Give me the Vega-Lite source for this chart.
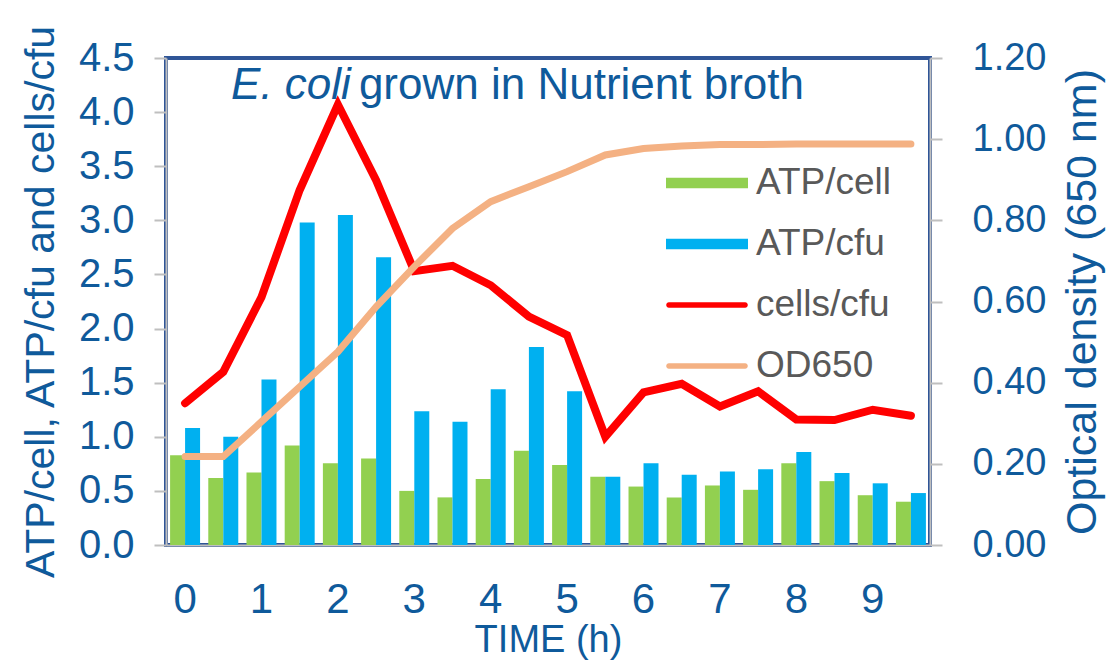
{
  "$schema": "https://vega.github.io/schema/vega-lite/v6.json",
  "width": 764,
  "height": 487,
  "autosize": "none",
  "padding": {"left": 166, "top": 58, "right": 181, "bottom": 115},
  "background": "white",
  "config": {
    "view": {"stroke": "#2F5597", "strokeWidth": 4},
    "axis": {"labelColor": "#0F5A9B", "titleColor": "#0F5A9B", "labelFont": "Liberation Sans", "titleFont": "Liberation Sans", "titleFontWeight": "normal", "grid": false, "domainColor": "#BFBFBF", "domainWidth": 2, "tickColor": "#BFBFBF", "tickWidth": 2}
  },
  "data": {"values": [
    {"t": 0, "s": "ATP/cell", "v": 0.83}, {"t": 0.5, "s": "ATP/cell", "v": 0.62}, {"t": 1, "s": "ATP/cell", "v": 0.67}, {"t": 1.5, "s": "ATP/cell", "v": 0.92},
    {"t": 2, "s": "ATP/cell", "v": 0.755}, {"t": 2.5, "s": "ATP/cell", "v": 0.8}, {"t": 3, "s": "ATP/cell", "v": 0.5}, {"t": 3.5, "s": "ATP/cell", "v": 0.44},
    {"t": 4, "s": "ATP/cell", "v": 0.61}, {"t": 4.5, "s": "ATP/cell", "v": 0.87}, {"t": 5, "s": "ATP/cell", "v": 0.74}, {"t": 5.5, "s": "ATP/cell", "v": 0.63},
    {"t": 6, "s": "ATP/cell", "v": 0.54}, {"t": 6.5, "s": "ATP/cell", "v": 0.44}, {"t": 7, "s": "ATP/cell", "v": 0.55}, {"t": 7.5, "s": "ATP/cell", "v": 0.51},
    {"t": 8, "s": "ATP/cell", "v": 0.755}, {"t": 8.5, "s": "ATP/cell", "v": 0.59}, {"t": 9, "s": "ATP/cell", "v": 0.46}, {"t": 9.5, "s": "ATP/cell", "v": 0.4},
    {"t": 0, "s": "ATP/cfu", "v": 1.08}, {"t": 0.5, "s": "ATP/cfu", "v": 1.0}, {"t": 1, "s": "ATP/cfu", "v": 1.53}, {"t": 1.5, "s": "ATP/cfu", "v": 2.98},
    {"t": 2, "s": "ATP/cfu", "v": 3.05}, {"t": 2.5, "s": "ATP/cfu", "v": 2.66}, {"t": 3, "s": "ATP/cfu", "v": 1.235}, {"t": 3.5, "s": "ATP/cfu", "v": 1.14},
    {"t": 4, "s": "ATP/cfu", "v": 1.44}, {"t": 4.5, "s": "ATP/cfu", "v": 1.83}, {"t": 5, "s": "ATP/cfu", "v": 1.42}, {"t": 5.5, "s": "ATP/cfu", "v": 0.63},
    {"t": 6, "s": "ATP/cfu", "v": 0.755}, {"t": 6.5, "s": "ATP/cfu", "v": 0.65}, {"t": 7, "s": "ATP/cfu", "v": 0.68}, {"t": 7.5, "s": "ATP/cfu", "v": 0.7},
    {"t": 8, "s": "ATP/cfu", "v": 0.86}, {"t": 8.5, "s": "ATP/cfu", "v": 0.665}, {"t": 9, "s": "ATP/cfu", "v": 0.57}, {"t": 9.5, "s": "ATP/cfu", "v": 0.48},
    {"t": 0, "s": "cells/cfu", "v": 1.31}, {"t": 0.5, "s": "cells/cfu", "v": 1.6}, {"t": 1, "s": "cells/cfu", "v": 2.29}, {"t": 1.5, "s": "cells/cfu", "v": 3.28},
    {"t": 2, "s": "cells/cfu", "v": 4.07}, {"t": 2.5, "s": "cells/cfu", "v": 3.37}, {"t": 3, "s": "cells/cfu", "v": 2.53}, {"t": 3.5, "s": "cells/cfu", "v": 2.58},
    {"t": 4, "s": "cells/cfu", "v": 2.4}, {"t": 4.5, "s": "cells/cfu", "v": 2.11}, {"t": 5, "s": "cells/cfu", "v": 1.94}, {"t": 5.5, "s": "cells/cfu", "v": 1.0},
    {"t": 6, "s": "cells/cfu", "v": 1.41}, {"t": 6.5, "s": "cells/cfu", "v": 1.49}, {"t": 7, "s": "cells/cfu", "v": 1.28}, {"t": 7.5, "s": "cells/cfu", "v": 1.42},
    {"t": 8, "s": "cells/cfu", "v": 1.16}, {"t": 8.5, "s": "cells/cfu", "v": 1.155}, {"t": 9, "s": "cells/cfu", "v": 1.25}, {"t": 9.5, "s": "cells/cfu", "v": 1.195},
    {"t": 0, "s": "OD650", "v": 0.218}, {"t": 0.5, "s": "OD650", "v": 0.218}, {"t": 1, "s": "OD650", "v": 0.304}, {"t": 1.5, "s": "OD650", "v": 0.39},
    {"t": 2, "s": "OD650", "v": 0.476}, {"t": 2.5, "s": "OD650", "v": 0.587}, {"t": 3, "s": "OD650", "v": 0.686}, {"t": 3.5, "s": "OD650", "v": 0.78},
    {"t": 4, "s": "OD650", "v": 0.846}, {"t": 4.5, "s": "OD650", "v": 0.883}, {"t": 5, "s": "OD650", "v": 0.92}, {"t": 5.5, "s": "OD650", "v": 0.961},
    {"t": 6, "s": "OD650", "v": 0.977}, {"t": 6.5, "s": "OD650", "v": 0.983}, {"t": 7, "s": "OD650", "v": 0.987}, {"t": 7.5, "s": "OD650", "v": 0.987},
    {"t": 8, "s": "OD650", "v": 0.988}, {"t": 8.5, "s": "OD650", "v": 0.988}, {"t": 9, "s": "OD650", "v": 0.988}, {"t": 9.5, "s": "OD650", "v": 0.988}
  ]},
  "encoding": {
    "x": {
      "field": "t", "type": "ordinal",
      "scale": {"paddingInner": 0.215, "paddingOuter": 0.107},
      "axis": {
        "title": "TIME (h)", "labelAngle": 0, "ticks": false,
        "labelExpr": "datum.value % 1 === 0 ? datum.label : ''",
        "labelFontSize": 42, "labelPadding": 34,
        "titleFontSize": 38, "titlePadding": 1
      }
    },
    "color": {
      "field": "s", "type": "nominal",
      "scale": {"domain": ["ATP/cell", "ATP/cfu", "cells/cfu", "OD650"], "range": ["#92D050", "#00B0F0", "#FF0000", "#F4B183"]},
      "legend": {
        "orient": "none", "legendX": 500, "legendY": 84, "title": null,
        "labelFont": "Liberation Sans", "labelFontSize": 37, "labelColor": "#595959",
        "symbolSize": 6724, "labelOffset": 8, "rowPadding": 2, "symbolStrokeWidth": 0,
        "encode": {"symbols": {"update": {
          "shape": {"signal": "datum.value === 'cells/cfu' || datum.value === 'OD650' ? 'M-0.93,-0.065L0.93,-0.065A0.065,0.065 0 0 1 0.93,0.065L-0.93,0.065A0.065,0.065 0 0 1 -0.93,-0.065Z' : 'M-1,-0.13L1,-0.13L1,0.13L-1,0.13Z'"},
          "fill": {"scale": "color", "field": "value"},
          "stroke": {"value": "transparent"},
          "opacity": {"value": 1}
        }}}
      }
    }
  },
  "layer": [
    {
      "layer": [
        {
          "transform": [{"filter": "datum.s === 'ATP/cell' || datum.s === 'ATP/cfu'"}],
          "mark": {"type": "bar"},
          "encoding": {
            "xOffset": {"field": "s", "type": "nominal", "scale": {"domain": ["ATP/cell", "ATP/cfu"], "paddingInner": 0}},
            "y": {
              "field": "v", "type": "quantitative",
              "scale": {"domain": [0, 4.5], "nice": false},
              "axis": {
                "title": "ATP/cell, ATP/cfu and cells/cfu", "titleFontSize": 41, "titlePadding": 16,
                "values": [0, 0.5, 1, 1.5, 2, 2.5, 3, 3.5, 4, 4.5], "format": ".1f",
                "labelFontSize": 40, "tickSize": 12, "labelPadding": 20
              }
            }
          }
        },
        {
          "transform": [{"filter": "datum.s === 'cells/cfu'"}],
          "mark": {"type": "line", "strokeWidth": 8, "strokeJoin": "miter", "strokeCap": "round"},
          "encoding": {"y": {"field": "v", "type": "quantitative"}}
        },
        {
          "data": {"values": [{"label": "E. coli"}]},
          "mark": {"type": "text", "align": "right", "baseline": "alphabetic", "dx": 13, "font": "Liberation Sans", "fontSize": 44, "fontStyle": "italic"},
          "encoding": {"x": {"datum": 2, "type": "ordinal"}, "y": {"datum": 4.12, "type": "quantitative"}, "text": {"field": "label"}, "color": {"value": "#0F5A9B"}}
        },
        {
          "data": {"values": [{"label": "grown in Nutrient broth"}]},
          "mark": {"type": "text", "align": "left", "baseline": "alphabetic", "dx": 21, "font": "Liberation Sans", "fontSize": 44},
          "encoding": {"x": {"datum": 2, "type": "ordinal"}, "y": {"datum": 4.12, "type": "quantitative"}, "text": {"field": "label"}, "color": {"value": "#0F5A9B"}}
        }
      ]
    },
    {
      "transform": [{"filter": "datum.s === 'OD650'"}],
      "mark": {"type": "line", "strokeWidth": 7, "strokeCap": "round"},
      "encoding": {
        "y": {
          "field": "v", "type": "quantitative",
          "scale": {"domain": [0, 1.2], "nice": false},
          "axis": {
            "orient": "right", "title": "Optical density (650 nm)", "titleFontSize": 43, "titleAngle": -90, "titleBaseline": "top", "titlePadding": 16,
            "values": [0, 0.2, 0.4, 0.6, 0.8, 1.0, 1.2], "format": ".2f",
            "labelFontSize": 38, "tickSize": 12, "labelPadding": 30
          }
        }
      }
    }
  ],
  "resolve": {"scale": {"y": "independent"}}
}
